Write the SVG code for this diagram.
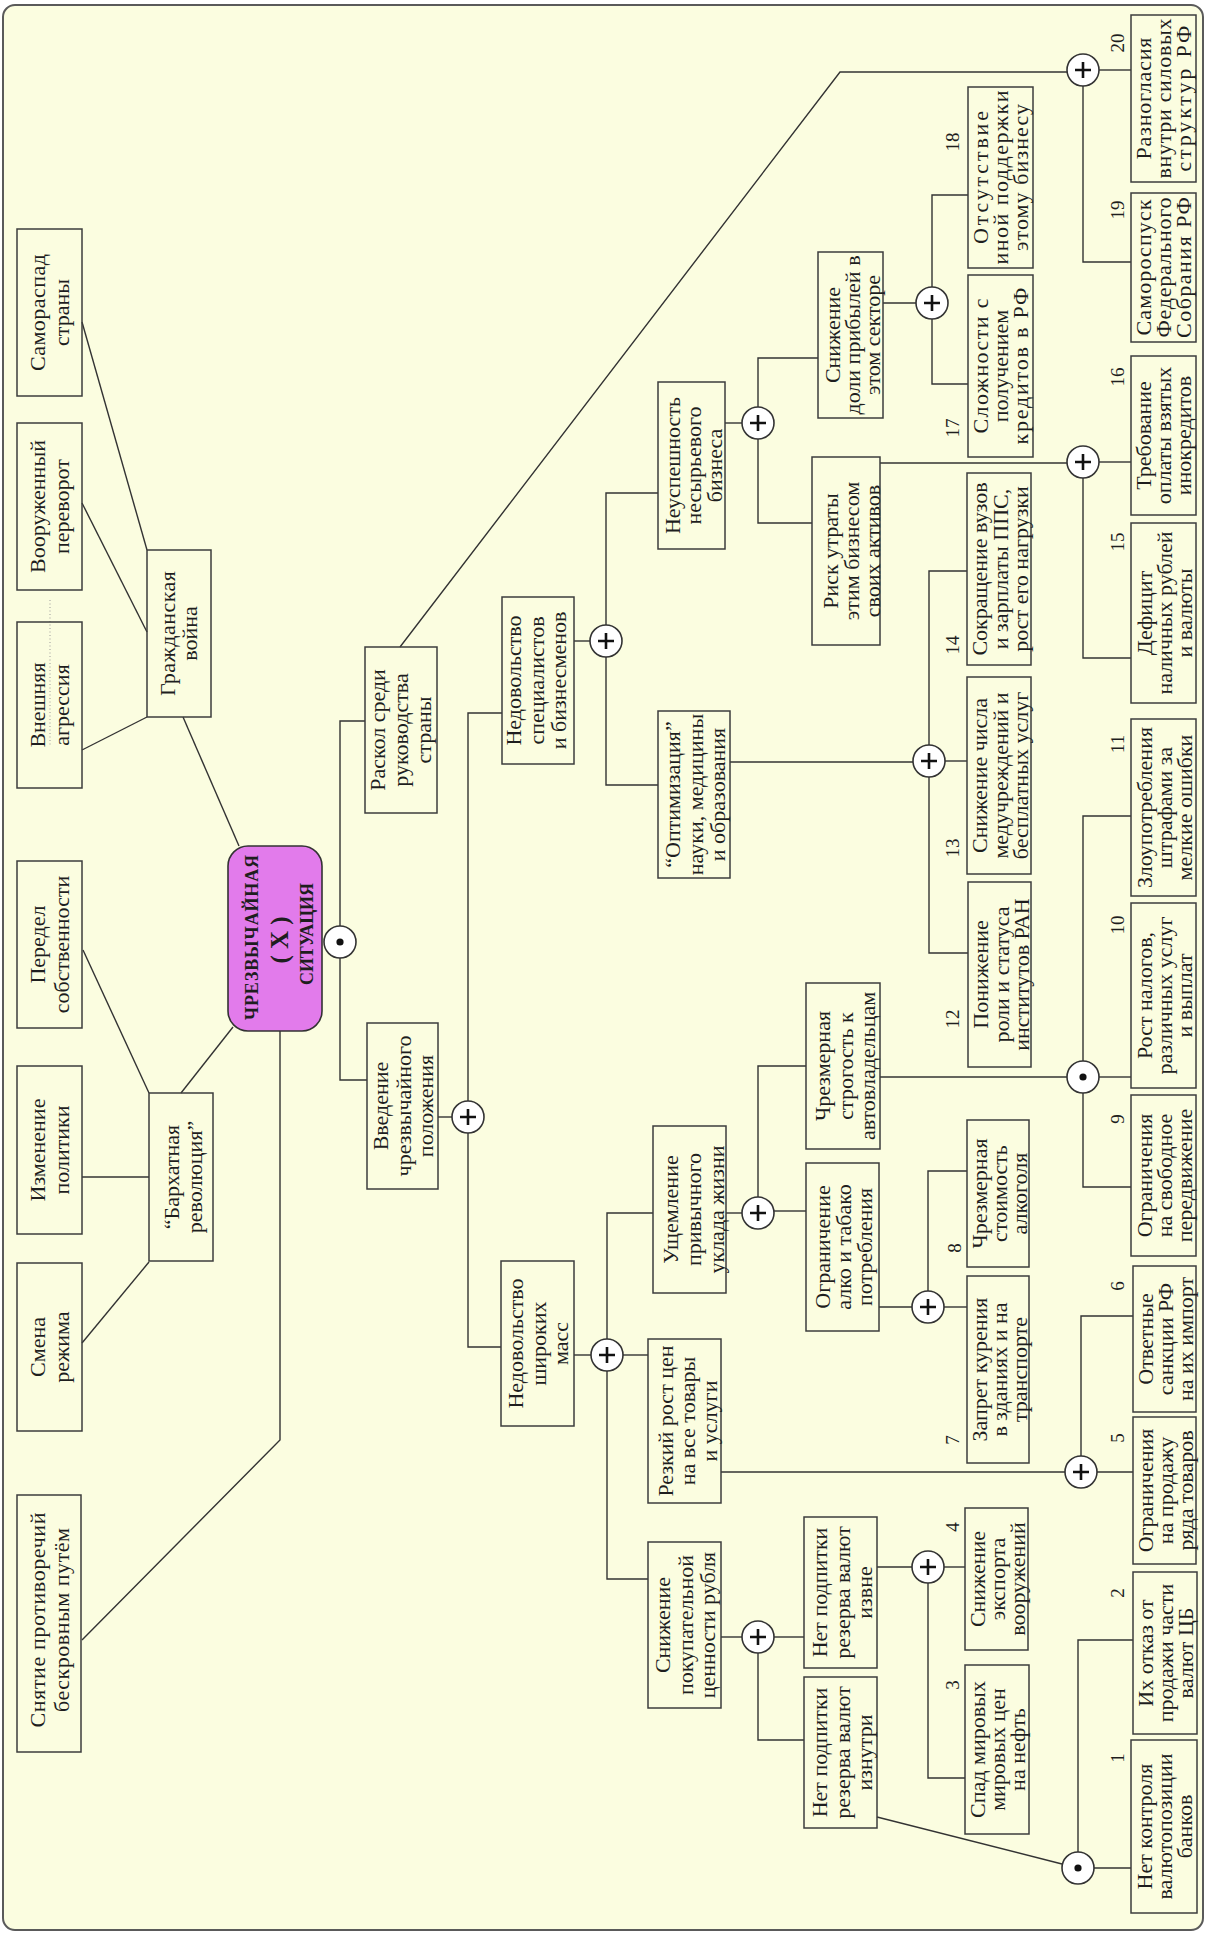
<svg xmlns="http://www.w3.org/2000/svg" width="1207" height="1933" viewBox="0 0 1207 1933">
<defs>
<style>
.bg{fill:#fbfde0;stroke:#5a5a5a;stroke-width:2}
.box{fill:none;stroke:#3c3c3c;stroke-width:1.5}
.t{font-family:"Liberation Serif","Times New Roman",serif;font-size:22px;fill:#1e1e1e;text-anchor:middle}
.n{font-family:"Liberation Serif","Times New Roman",serif;font-size:19px;fill:#1e1e1e;text-anchor:middle}
.cb{font-family:"Liberation Serif","Times New Roman",serif;font-weight:bold;fill:#1e1e1e;text-anchor:middle}
.con path{fill:none;stroke:#333;stroke-width:1.4}
.gate{fill:#fff;stroke:#333;stroke-width:1.6}
.sym{stroke:#111;stroke-width:2.6;fill:none}
</style>
<g id="plus"><circle r="16" class="gate"/><path class="sym" d="M-8 0H8M0 -8V8"/></g>
<g id="dot"><circle r="16" class="gate"/><circle r="3.6" fill="#111"/></g>
</defs>
<rect class="bg" x="3" y="5" width="1200" height="1925" rx="12"/>
<path d="M50 600V745" stroke="#9a9a9a" stroke-width="1" stroke-dasharray="1 2.5" fill="none"/>

<g id="connectors" class="con">
<path d="M82 322L147 550"/>
<path d="M82 503L147 632"/>
<path d="M82 750L147 717"/>
<path d="M183 717L239 846"/>
<path d="M83 950L149 1093"/>
<path d="M82 1177H149"/>
<path d="M82 1343L149 1262"/>
<path d="M181 1093L233 1027"/>
<path d="M280 1031V1440L82 1640"/>
<path d="M365 721H340V926"/>
<path d="M340 958V1080H367"/>
<path d="M400 647L840 72H1067"/>
<path d="M438 1117H452"/>
<path d="M502 713H468V1101"/>
<path d="M468 1133V1347H501"/>
<path d="M574 641H590"/>
<path d="M658 493H606V625"/>
<path d="M606 657V785H658"/>
<path d="M725 423H742"/>
<path d="M818 358H758V407"/>
<path d="M758 439V523H812"/>
<path d="M883 303H916"/>
<path d="M968 195H932V287"/>
<path d="M932 319V384H968"/>
<path d="M1099 70H1131"/>
<path d="M1083 86V262H1131"/>
<path d="M880 463H1067"/>
<path d="M1099 462H1131"/>
<path d="M1083 478V658H1131"/>
<path d="M730 762H913"/>
<path d="M945 761H967"/>
<path d="M967 571H929V745"/>
<path d="M929 777V953H968"/>
<path d="M880 1077H1067"/>
<path d="M1099 1077H1131"/>
<path d="M1131 816H1083V1061"/>
<path d="M1083 1093V1187H1131"/>
<path d="M726 1213H742"/>
<path d="M774 1211H806"/>
<path d="M806 1066H758V1197"/>
<path d="M879 1307H912"/>
<path d="M944 1307H967"/>
<path d="M967 1171H928V1291"/>
<path d="M574 1355H591"/>
<path d="M623 1355H648"/>
<path d="M653 1213H607V1339"/>
<path d="M607 1371V1579H648"/>
<path d="M721 1472H1065"/>
<path d="M1097 1472H1133"/>
<path d="M1133 1316H1081V1456"/>
<path d="M721 1637H742"/>
<path d="M774 1637H804"/>
<path d="M758 1653V1740H804"/>
<path d="M877 1567H912"/>
<path d="M944 1567H965"/>
<path d="M928 1583V1778H965"/>
<path d="M877 1817L1062 1864"/>
<path d="M1094 1868H1131"/>
<path d="M1133 1640H1078V1852"/>
</g>

<!-- central node -->
<g id="n_center">
<rect x="228" y="846" width="94" height="185" rx="20" fill="#e27beb" stroke="#333" stroke-width="1.6"/>
<text class="cb" font-size="18" transform="translate(258,937.5) rotate(-90)" textLength="165" lengthAdjust="spacing">ЧРЕЗВЫЧАЙНАЯ</text>
<text class="cb" font-size="25" font-weight="normal" transform="translate(288,940) rotate(-90)">( X )</text>
<text class="cb" font-size="18" transform="translate(313,934) rotate(-90)" textLength="102" lengthAdjust="spacing">СИТУАЦИЯ</text>
</g>

<!-- gates -->
<g id="g_center"><use href="#dot" x="340" y="942"/></g>
<g id="g_vved"><use href="#plus" x="468" y="1117"/></g>
<g id="g_spec"><use href="#plus" x="606" y="641"/></g>
<g id="g_neusp"><use href="#plus" x="758" y="423"/></g>
<g id="g_dol"><use href="#plus" x="932" y="303"/></g>
<g id="g_raskol"><use href="#plus" x="1083" y="70"/></g>
<g id="g_risk"><use href="#plus" x="1083" y="462"/></g>
<g id="g_opt"><use href="#plus" x="929" y="761"/></g>
<g id="g_strog"><use href="#dot" x="1083" y="1077"/></g>
<g id="g_uklad"><use href="#plus" x="758" y="1213"/></g>
<g id="g_alko"><use href="#plus" x="928" y="1307"/></g>
<g id="g_mass"><use href="#plus" x="607" y="1355"/></g>
<g id="g_ceny"><use href="#plus" x="1081" y="1472"/></g>
<g id="g_rubl"><use href="#plus" x="758" y="1637"/></g>
<g id="g_izvne"><use href="#plus" x="928" y="1567"/></g>
<g id="g_izn"><use href="#dot" x="1078" y="1868"/></g>

<!-- left column -->
<g id="n_samoraspad"><rect class="box" x="17" y="229" width="65" height="167"/>
<text class="t" transform="translate(45,312.5) rotate(-90)"><tspan x="0" y="0" textLength="117">Самораспад</tspan><tspan x="0" y="24">страны</tspan></text></g>
<g id="n_perevorot"><rect class="box" x="17" y="423" width="65" height="167"/>
<text class="t" transform="translate(45,506.5) rotate(-90)"><tspan x="0" y="0">Вооруженный</tspan><tspan x="0" y="24">переворот</tspan></text></g>
<g id="n_agressiya"><rect class="box" x="17" y="622" width="65" height="166"/>
<text class="t" transform="translate(45,705) rotate(-90)"><tspan x="0" y="0">Внешняя</tspan><tspan x="0" y="24">агрессия</tspan></text></g>
<g id="n_grazhd"><rect class="box" x="147" y="550" width="64" height="167"/>
<text class="t" transform="translate(175,633.5) rotate(-90)"><tspan x="0" y="0" textLength="125">Гражданская</tspan><tspan x="0" y="22">война</tspan></text></g>
<g id="n_peredel"><rect class="box" x="17" y="861" width="65" height="167"/>
<text class="t" transform="translate(45,944.5) rotate(-90)"><tspan x="0" y="0">Передел</tspan><tspan x="0" y="24">собственности</tspan></text></g>
<g id="n_politika"><rect class="box" x="17" y="1066" width="65" height="168"/>
<text class="t" transform="translate(45,1150) rotate(-90)"><tspan x="0" y="0">Изменение</tspan><tspan x="0" y="24">политики</tspan></text></g>
<g id="n_rezhim"><rect class="box" x="17" y="1263" width="65" height="168"/>
<text class="t" transform="translate(45,1347) rotate(-90)"><tspan x="0" y="0">Смена</tspan><tspan x="0" y="24">режима</tspan></text></g>
<g id="n_barkhat"><rect class="box" x="149" y="1093" width="64" height="168"/>
<text class="t" transform="translate(179,1177) rotate(-90)"><tspan x="0" y="0">“Бархатная</tspan><tspan x="0" y="23">революция”</tspan></text></g>
<g id="n_snyatie"><rect class="box" x="17" y="1495" width="64" height="257"/>
<text class="t" transform="translate(45,1620) rotate(-90)"><tspan x="0" y="0" textLength="215">Снятие противоречий</tspan><tspan x="0" y="24" textLength="184">бескровным путём</tspan></text></g>

<!-- second level -->
<g id="n_raskol"><rect class="box" x="365" y="647" width="72" height="166"/>
<text class="t" transform="translate(385,730) rotate(-90)"><tspan x="0" y="0">Раскол среди</tspan><tspan x="0" y="23">руководства</tspan><tspan x="0" y="46">страны</tspan></text></g>
<g id="n_vved"><rect class="box" x="367" y="1023" width="71" height="166"/>
<text class="t" transform="translate(388,1106) rotate(-90)"><tspan x="0" y="0">Введение</tspan><tspan x="0" y="22.5">чрезвычайного</tspan><tspan x="0" y="45">положения</tspan></text></g>
<g id="n_spec"><rect class="box" x="502" y="597" width="72" height="167"/>
<text class="t" transform="translate(521,680.5) rotate(-90)"><tspan x="0" y="0">Недовольство</tspan><tspan x="0" y="22.5">специалистов</tspan><tspan x="0" y="45">и бизнесменов</tspan></text></g>
<g id="n_mass"><rect class="box" x="501" y="1261" width="73" height="165"/>
<text class="t" transform="translate(523,1343.5) rotate(-90)"><tspan x="0" y="0">Недовольство</tspan><tspan x="0" y="22.5">широких</tspan><tspan x="0" y="45">масс</tspan></text></g>
<g id="n_neusp"><rect class="box" x="658" y="382" width="67" height="167"/>
<text class="t" transform="translate(680,465.5) rotate(-90)"><tspan x="0" y="0">Неуспешность</tspan><tspan x="0" y="21">несырьевого</tspan><tspan x="0" y="42">бизнеса</tspan></text></g>
<g id="n_opt"><rect class="box" x="658" y="711" width="72" height="167"/>
<text class="t" transform="translate(680,794.5) rotate(-90)"><tspan x="0" y="0">“Оптимизация”</tspan><tspan x="0" y="22.5">науки, медицины</tspan><tspan x="0" y="45">и образования</tspan></text></g>
<g id="n_uklad"><rect class="box" x="653" y="1126" width="73" height="167"/>
<text class="t" transform="translate(678,1209.5) rotate(-90)"><tspan x="0" y="0">Ущемление</tspan><tspan x="0" y="23">привычного</tspan><tspan x="0" y="46">уклада жизни</tspan></text></g>
<g id="n_ceny"><rect class="box" x="648" y="1339" width="73" height="164"/>
<text class="t" transform="translate(673,1421) rotate(-90)"><tspan x="0" y="0">Резкий рост цен</tspan><tspan x="0" y="22">на все товары</tspan><tspan x="0" y="44">и услуги</tspan></text></g>
<g id="n_rubl"><rect class="box" x="648" y="1542" width="73" height="166"/>
<text class="t" transform="translate(670,1625) rotate(-90)"><tspan x="0" y="0">Снижение</tspan><tspan x="0" y="22.5">покупательной</tspan><tspan x="0" y="45">ценности рубля</tspan></text></g>

<!-- third level -->
<g id="n_dol"><rect class="box" x="818" y="252" width="65" height="166"/>
<text class="t" transform="translate(840,335) rotate(-90)"><tspan x="0" y="0">Снижение</tspan><tspan x="0" y="20">доли прибылей в</tspan><tspan x="0" y="40">этом секторе</tspan></text></g>
<g id="n_risk"><rect class="box" x="812" y="457" width="68" height="188"/>
<text class="t" transform="translate(838,551) rotate(-90)"><tspan x="0" y="0">Риск утраты</tspan><tspan x="0" y="21">этим бизнесом</tspan><tspan x="0" y="42">своих активов</tspan></text></g>
<g id="n_strog"><rect class="box" x="806" y="983" width="74" height="166"/>
<text class="t" transform="translate(830,1066) rotate(-90)"><tspan x="0" y="0">Чрезмерная</tspan><tspan x="0" y="22.5">строгость к</tspan><tspan x="0" y="45">автовладельцам</tspan></text></g>
<g id="n_alko"><rect class="box" x="806" y="1163" width="73" height="168"/>
<text class="t" transform="translate(830,1247) rotate(-90)"><tspan x="0" y="0">Ограничение</tspan><tspan x="0" y="21">алко и табако</tspan><tspan x="0" y="42">потребления</tspan></text></g>
<g id="n_izvne"><rect class="box" x="804" y="1517" width="73" height="151"/>
<text class="t" transform="translate(827,1592.5) rotate(-90)"><tspan x="0" y="0">Нет подпитки</tspan><tspan x="0" y="22.5">резерва валют</tspan><tspan x="0" y="45">извне</tspan></text></g>
<g id="n_izn"><rect class="box" x="804" y="1677" width="73" height="151"/>
<text class="t" transform="translate(827,1752.5) rotate(-90)"><tspan x="0" y="0">Нет подпитки</tspan><tspan x="0" y="22.5">резерва валют</tspan><tspan x="0" y="45">изнутри</tspan></text></g>

<!-- inner numbered column -->
<g id="n18"><rect class="box" x="968" y="87" width="65" height="181"/>
<text class="t" transform="translate(988,177.5) rotate(-90)"><tspan x="0" y="0" textLength="133">Отсутствие</tspan><tspan x="0" y="20" textLength="174">иной поддержки</tspan><tspan x="0" y="40" textLength="147">этому бизнесу</tspan></text>
<text class="n" transform="translate(959,142) rotate(-90)">18</text></g>
<g id="n17"><rect class="box" x="968" y="275" width="65" height="182"/>
<text class="t" transform="translate(988,366) rotate(-90)"><tspan x="0" y="0" textLength="135">Сложности с</tspan><tspan x="0" y="20">получением</tspan><tspan x="0" y="40" textLength="157">кредитов в РФ</tspan></text>
<text class="n" transform="translate(959,428) rotate(-90)">17</text></g>
<g id="n14"><rect class="box" x="967" y="473" width="64" height="192"/>
<text class="t" transform="translate(987,569) rotate(-90)"><tspan x="0" y="0">Сокращение вузов</tspan><tspan x="0" y="20.5">и зарплаты ППС,</tspan><tspan x="0" y="41">рост его нагрузки</tspan></text>
<text class="n" transform="translate(959,645) rotate(-90)">14</text></g>
<g id="n13"><rect class="box" x="967" y="677" width="64" height="197"/>
<text class="t" transform="translate(987,775.5) rotate(-90)"><tspan x="0" y="0">Снижение числа</tspan><tspan x="0" y="20.5">медучреждений и</tspan><tspan x="0" y="41">бесплатных услуг</tspan></text>
<text class="n" transform="translate(959,848) rotate(-90)">13</text></g>
<g id="n12"><rect class="box" x="968" y="882" width="63" height="185"/>
<text class="t" transform="translate(988,974.5) rotate(-90)"><tspan x="0" y="0">Понижение</tspan><tspan x="0" y="20.5">роли и статуса</tspan><tspan x="0" y="41">институтов РАН</tspan></text>
<text class="n" transform="translate(959,1019) rotate(-90)">12</text></g>
<g id="n8"><rect class="box" x="967" y="1120" width="62" height="147"/>
<text class="t" transform="translate(987,1193.5) rotate(-90)"><tspan x="0" y="0">Чрезмерная</tspan><tspan x="0" y="20">стоимость</tspan><tspan x="0" y="40">алкоголя</tspan></text>
<text class="n" transform="translate(961,1248) rotate(-90)">8</text></g>
<g id="n7"><rect class="box" x="967" y="1276" width="62" height="187"/>
<text class="t" transform="translate(987,1369.5) rotate(-90)"><tspan x="0" y="0">Запрет курения</tspan><tspan x="0" y="20">в зданиях и на</tspan><tspan x="0" y="40">транспорте</tspan></text>
<text class="n" transform="translate(959,1440) rotate(-90)">7</text></g>
<g id="n4"><rect class="box" x="965" y="1508" width="63" height="142"/>
<text class="t" transform="translate(985,1579) rotate(-90)"><tspan x="0" y="0">Снижение</tspan><tspan x="0" y="20">экспорта</tspan><tspan x="0" y="40">вооружений</tspan></text>
<text class="n" transform="translate(959,1527) rotate(-90)">4</text></g>
<g id="n3"><rect class="box" x="965" y="1665" width="64" height="169"/>
<text class="t" transform="translate(985,1749.5) rotate(-90)"><tspan x="0" y="0">Спад мировых</tspan><tspan x="0" y="20">мировых цен</tspan><tspan x="0" y="40">на нефть</tspan></text>
<text class="n" transform="translate(959,1685) rotate(-90)">3</text></g>

<!-- right numbered column -->
<g id="n20"><rect class="box" x="1131" y="15" width="65" height="167"/>
<text class="t" transform="translate(1151,98.5) rotate(-90)"><tspan x="0" y="0" textLength="122">Разногласия</tspan><tspan x="0" y="20" textLength="160">внутри силовых</tspan><tspan x="0" y="40" textLength="146">структур РФ</tspan></text>
<text class="n" transform="translate(1124,43) rotate(-90)">20</text></g>
<g id="n19"><rect class="box" x="1131" y="193" width="65" height="149"/>
<text class="t" transform="translate(1151,267.5) rotate(-90)"><tspan x="0" y="0" textLength="136">Самороспуск</tspan><tspan x="0" y="20" textLength="140">Федерального</tspan><tspan x="0" y="40" textLength="141">Собрания РФ</tspan></text>
<text class="n" transform="translate(1124,210) rotate(-90)">19</text></g>
<g id="n16"><rect class="box" x="1131" y="356" width="65" height="159"/>
<text class="t" transform="translate(1151,435.5) rotate(-90)"><tspan x="0" y="0">Требование</tspan><tspan x="0" y="20">оплаты взятых</tspan><tspan x="0" y="40">инокредитов</tspan></text>
<text class="n" transform="translate(1124,377) rotate(-90)">16</text></g>
<g id="n15"><rect class="box" x="1131" y="523" width="65" height="180"/>
<text class="t" transform="translate(1152,613) rotate(-90)"><tspan x="0" y="0">Дефицит</tspan><tspan x="0" y="20">наличных рублей</tspan><tspan x="0" y="40">и валюты</tspan></text>
<text class="n" transform="translate(1124,542) rotate(-90)">15</text></g>
<g id="n11"><rect class="box" x="1131" y="719" width="65" height="177"/>
<text class="t" transform="translate(1152,807.5) rotate(-90)"><tspan x="0" y="0">Злоупотребления</tspan><tspan x="0" y="20">штрафами за</tspan><tspan x="0" y="40">мелкие ошибки</tspan></text>
<text class="n" transform="translate(1124,744) rotate(-90)">11</text></g>
<g id="n10"><rect class="box" x="1131" y="903" width="65" height="185"/>
<text class="t" transform="translate(1152,995.5) rotate(-90)"><tspan x="0" y="0">Рост налогов,</tspan><tspan x="0" y="20">различных услуг</tspan><tspan x="0" y="40">и выплат</tspan></text>
<text class="n" transform="translate(1124,925) rotate(-90)">10</text></g>
<g id="n9"><rect class="box" x="1131" y="1095" width="65" height="161"/>
<text class="t" transform="translate(1152,1175.5) rotate(-90)"><tspan x="0" y="0">Ограничения</tspan><tspan x="0" y="20">на свободное</tspan><tspan x="0" y="40">передвижение</tspan></text>
<text class="n" transform="translate(1124,1119) rotate(-90)">9</text></g>
<g id="n6"><rect class="box" x="1133" y="1266" width="63" height="146"/>
<text class="t" transform="translate(1153,1339) rotate(-90)"><tspan x="0" y="0">Ответные</tspan><tspan x="0" y="20">санкции РФ</tspan><tspan x="0" y="40">на их импорт</tspan></text>
<text class="n" transform="translate(1124,1286) rotate(-90)">6</text></g>
<g id="n5"><rect class="box" x="1133" y="1417" width="63" height="147"/>
<text class="t" transform="translate(1153,1490.5) rotate(-90)"><tspan x="0" y="0">Ограничения</tspan><tspan x="0" y="20">на продажу</tspan><tspan x="0" y="40">ряда товаров</tspan></text>
<text class="n" transform="translate(1124,1438) rotate(-90)">5</text></g>
<g id="n2"><rect class="box" x="1133" y="1572" width="64" height="162"/>
<text class="t" transform="translate(1153,1653) rotate(-90)"><tspan x="0" y="0">Их отказ от</tspan><tspan x="0" y="20">продажи части</tspan><tspan x="0" y="40">валют ЦБ</tspan></text>
<text class="n" transform="translate(1124,1593) rotate(-90)">2</text></g>
<g id="n1"><rect class="box" x="1131" y="1740" width="66" height="173"/>
<text class="t" transform="translate(1152,1826.5) rotate(-90)"><tspan x="0" y="0">Нет контроля</tspan><tspan x="0" y="20">валютопозиции</tspan><tspan x="0" y="40">банков</tspan></text>
<text class="n" transform="translate(1124,1758) rotate(-90)">1</text></g>
</svg>
